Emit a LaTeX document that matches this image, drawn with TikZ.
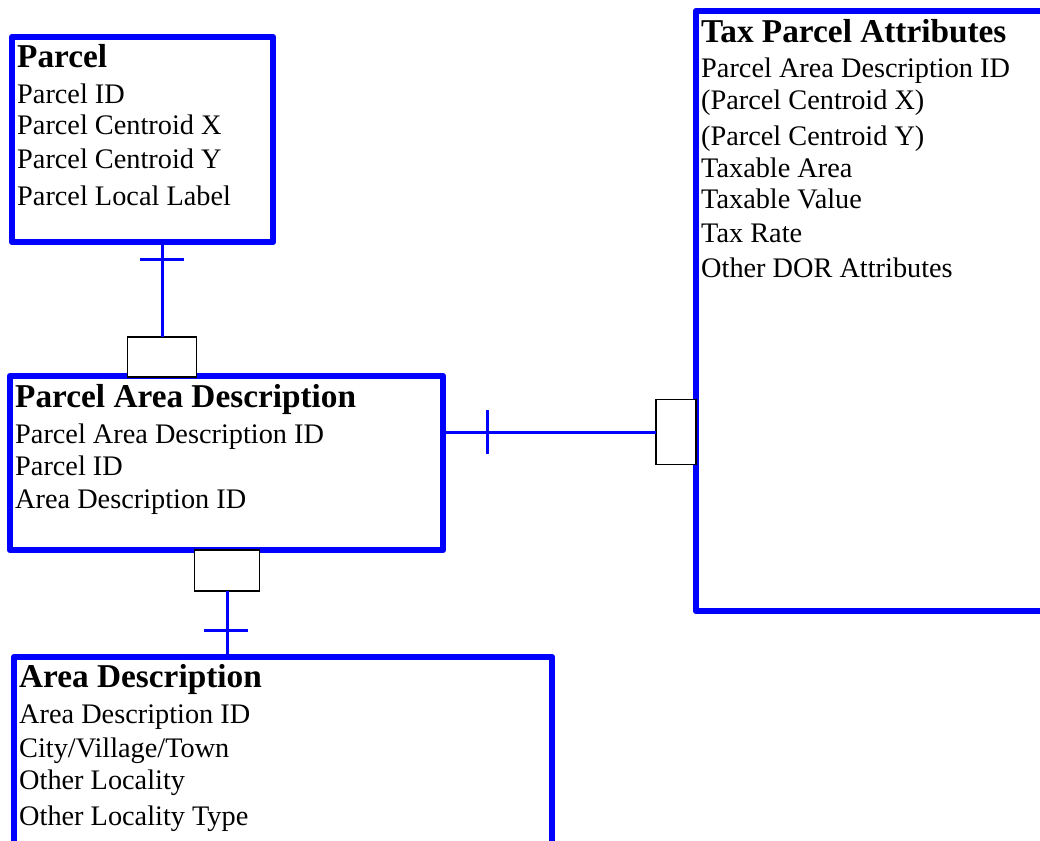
\documentclass[tikz,border=0pt]{standalone}
\usepackage{fontspec}
\setmainfont{Liberation Serif}
\definecolor{erblue}{RGB}{0,0,255}
\begin{document}
\begin{tikzpicture}[x=1pt,y=-1pt,
  entity/.style={draw=erblue, line width=6.5pt, line join=round, rectangle, inner sep=0pt, outer sep=0pt},
  keybox/.style={draw=black, line width=1.2pt, fill=white, rectangle, inner sep=0pt, outer sep=0pt},
  conn/.style={draw=erblue, line width=3pt},
  ttl/.style={anchor=base west, inner sep=0pt, font=\fontsize{33.3}{36}\selectfont\bfseries},
  attr/.style={anchor=base west, inner sep=0pt, font=\fontsize{28.3}{30}\selectfont}]
\useasboundingbox (0,0) rectangle (1040,840);
\clip (0,0) rectangle (1040,840);
\fill[white] (0,0) rectangle (1040,840);

% entity boxes
\node[entity, minimum width=261pt, minimum height=205pt] (parcel) at (142.5,139.5) {};
\node[entity, minimum width=433pt, minimum height=174pt] (pad) at (226.5,463) {};
\node[entity, minimum width=404pt, minimum height=600pt] (tax) at (898,311) {};
\node[entity, minimum width=538pt, minimum height=243pt] (area) at (283,778.5) {};

% connectors
\node[keybox, minimum width=69pt, minimum height=40pt] (pkey) at (162,357) {};
\node[keybox, minimum width=40pt, minimum height=65pt] (tkey) at (676,432) {};
\node[keybox, minimum width=65pt, minimum height=41pt] (akey) at (227,570.5) {};

\draw[conn] (parcel.south -| pkey.north) -- (pkey.north);
\draw[conn] (pad.east |- tkey.west) -- (tkey.west);
\draw[conn] (akey.south) -- (area.north -| akey.south);

\coordinate (t1) at (162,259);
\coordinate (t2) at (487,432);
\coordinate (t3) at (226,630);
\draw[conn] ([xshift=-22pt]t1) -- ([xshift=22pt]t1);
\draw[conn] ([yshift=-22pt]t2) -- ([yshift=22pt]t2);
\draw[conn] ([xshift=-22pt]t3) -- ([xshift=22pt]t3);

% Parcel
\node[ttl]  (p0) at (17,68)  {Parcel};
\node[attr] (p1) at (17,103) {Parcel ID};
\node[attr] (p2) at (17,135) {Parcel Centroid X};
\node[attr] (p3) at (17,168) {Parcel Centroid Y};
\node[attr] (p4) at (17,205) {Parcel Local Label};

% Parcel Area Description
\node[ttl]  (d0) at (15,407) {Parcel Area Description};
\node[attr] (d1) at (15,443) {Parcel Area Description ID};
\node[attr] (d2) at (15,475) {Parcel ID};
\node[attr] (d3) at (15,508) {Area Description ID};

% Tax Parcel Attributes
\node[ttl]  (x0) at (701,43)  {Tax Parcel Attributes};
\node[attr] (x1) at (701,78)  {Parcel Area Description ID};
\node[attr] (x2) at (701,110) {(Parcel Centroid X)};
\node[attr] (x3) at (701,145) {(Parcel Centroid Y)};
\node[attr] (x4) at (701,177) {Taxable Area};
\node[attr] (x5) at (701,208) {Taxable Value};
\node[attr] (x6) at (701,242) {Tax Rate};
\node[attr] (x7) at (701,277) {Other DOR Attributes};

% Area Description
\node[ttl]  (a0) at (19,687) {Area Description};
\node[attr] (a1) at (19,723) {Area Description ID};
\node[attr] (a2) at (19,757) {City/Village/Town};
\node[attr] (a3) at (19,789) {Other Locality};
\node[attr] (a4) at (19,825) {Other Locality Type};
\end{tikzpicture}
\end{document}
